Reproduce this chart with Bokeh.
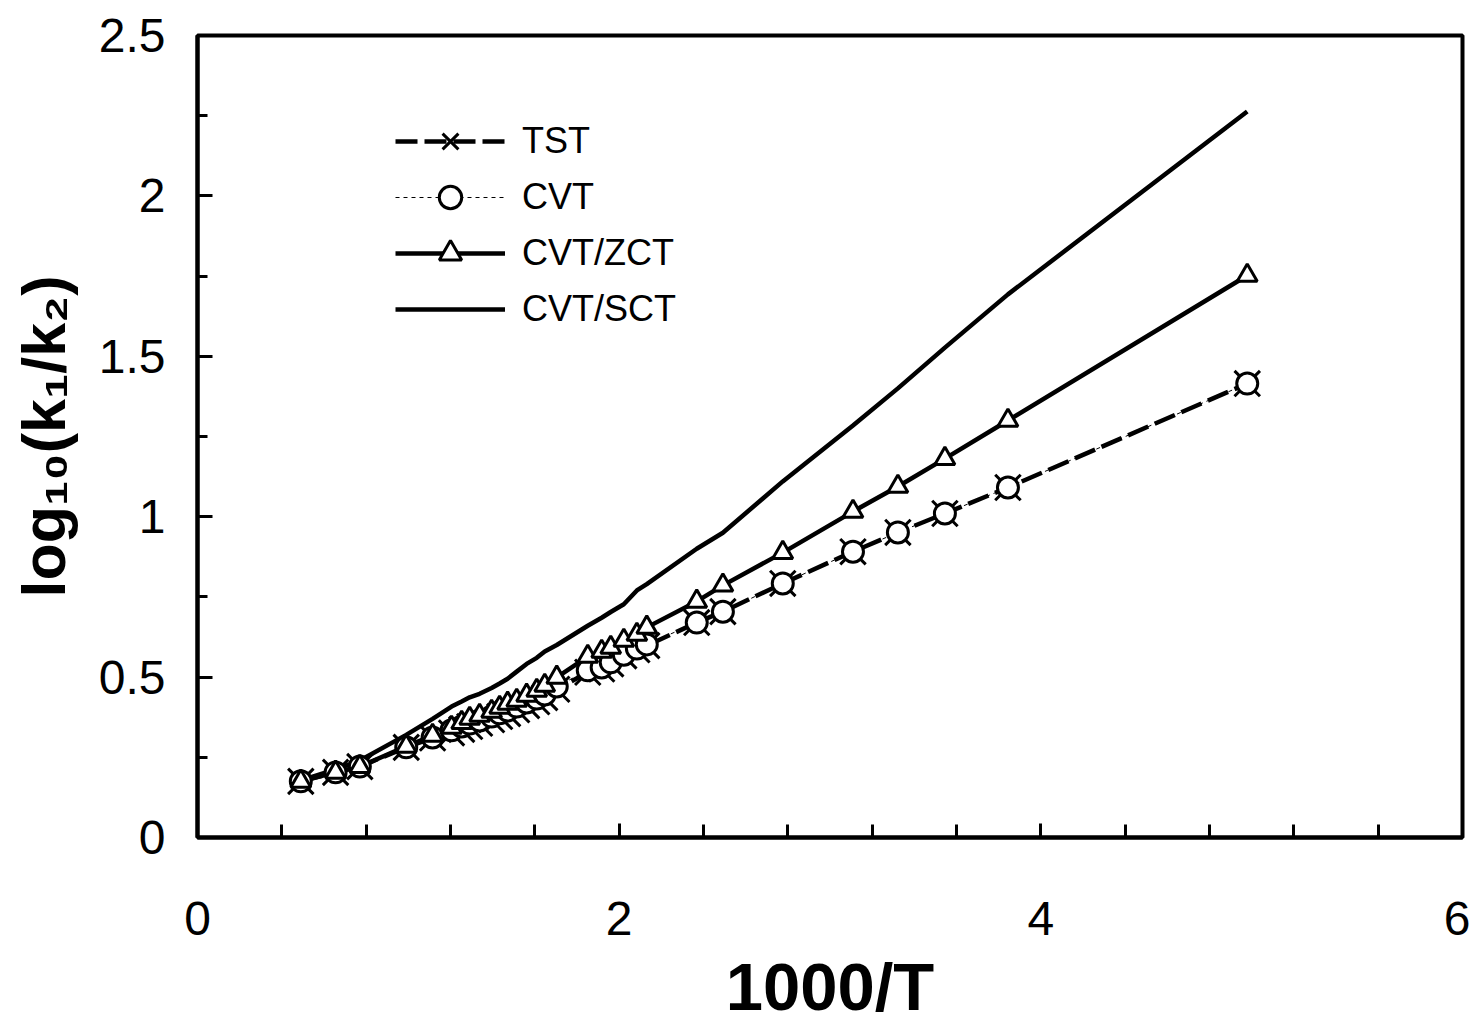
from bokeh.plotting import figure
from bokeh.models import Range1d, FixedTicker, Legend, LegendItem
from bokeh.embed import file_html
from bokeh.resources import INLINE

# ---- data ----
x_inv_T = [0.49, 0.655, 0.77, 0.99, 1.115, 1.205, 1.253, 1.291, 1.338, 1.395, 1.433,
           1.471, 1.514, 1.561, 1.609, 1.647, 1.704, 1.851, 1.917, 1.96, 2.022, 2.084,
           2.131, 2.368, 2.492, 2.776, 3.109, 3.322, 3.545, 3.844, 4.979]
tst = [0.175, 0.203, 0.221, 0.281, 0.31, 0.326, 0.337, 0.346, 0.356, 0.367, 0.377,
       0.386, 0.398, 0.411, 0.423, 0.436, 0.462, 0.515, 0.525, 0.541, 0.566, 0.585,
       0.598, 0.670, 0.704, 0.792, 0.891, 0.951, 1.010, 1.091, 1.415]
cvt = [0.175, 0.203, 0.221, 0.281, 0.312, 0.334, 0.346, 0.355, 0.365, 0.377, 0.387,
       0.396, 0.408, 0.421, 0.433, 0.446, 0.471, 0.521, 0.530, 0.546, 0.570, 0.589,
       0.602, 0.670, 0.704, 0.792, 0.891, 0.951, 1.010, 1.091, 1.415]
cvt_zct = [0.175, 0.203, 0.221, 0.284, 0.318, 0.343, 0.358, 0.371, 0.380, 0.393, 0.405,
           0.418, 0.427, 0.443, 0.458, 0.474, 0.499, 0.564, 0.580, 0.592, 0.614, 0.633,
           0.655, 0.736, 0.786, 0.888, 1.016, 1.094, 1.181, 1.300, 1.752]
cvt_sct = [0.178, 0.212, 0.240, 0.320, 0.370, 0.408, 0.424, 0.437, 0.448, 0.466, 0.480,
           0.495, 0.517, 0.541, 0.560, 0.580, 0.600, 0.660, 0.685, 0.703, 0.727, 0.770,
           0.790, 0.900, 0.950, 1.110, 1.284, 1.400, 1.527, 1.693, 2.263]
series_names = ["TST", "CVT", "CVT/ZCT", "CVT/SCT"]
x_major = [0, 2, 4, 6]
x_minor = [0.4 * i for i in range(16)]
y_major = [0, 0.5, 1, 1.5, 2, 2.5]
y_minor = [0.25 * i for i in range(11)]

FONT = "Liberation Sans"

p = figure(width=1470, height=1028, output_backend="svg", toolbar_location=None,
           x_range=Range1d(0, 6), y_range=Range1d(0, 2.5),
           min_border_left=197, min_border_right=8, min_border_top=35,
           min_border_bottom=191)
p.background_fill_color = "white"
p.border_fill_color = "white"
p.grid.visible = False
p.outline_line_color = "black"
p.outline_line_width = 4

# lines
r_sct = p.line(x_inv_T, cvt_sct, line_color="black", line_width=4.5)
r_zct_line = p.line(x_inv_T, cvt_zct, line_color="black", line_width=4.5)
r_tst_line = p.line(x_inv_T, tst, line_color="black", line_width=4.5, line_dash="22 7")
r_cvt_line = p.line(x_inv_T, cvt, line_color="black", line_width=1, line_dash="4 4")
# markers
r_tst_m = p.scatter(x_inv_T, tst, marker="x", size=36, line_color="black", line_width=3)
r_cvt_m = p.scatter(x_inv_T, cvt, marker="circle", size=21, line_color="black",
                    fill_color="white", line_width=3)
r_zct_m = p.scatter(x_inv_T, cvt_zct, marker="triangle", size=20, line_color="black",
                    fill_color="white", line_width=3)

# axes
for ax in (p.xaxis[0], p.yaxis[0]):
    ax.axis_line_width = 4
    ax.axis_line_color = "black"
    ax.major_tick_out = 0
    ax.minor_tick_out = 0
    ax.major_tick_line_width = 3
    ax.minor_tick_line_width = 3
    ax.major_label_text_font = FONT
    ax.major_label_text_font_size = "48px"
    ax.major_label_text_color = "black"
    ax.axis_label_text_font = FONT
    ax.axis_label_text_font_style = "bold"
    ax.axis_label_text_color = "black"

p.xaxis[0].ticker = FixedTicker(ticks=x_major, minor_ticks=x_minor)
p.xaxis[0].major_tick_in = 14
p.xaxis[0].minor_tick_in = 13
p.xaxis[0].major_label_standoff = 64
p.xaxis[0].axis_label = "1000/T"
p.xaxis[0].axis_label_text_font_size = "67px"
p.xaxis[0].axis_label_standoff = 11
p.xaxis[0].major_label_overrides = {0: "0", 2: "2", 4: "4", 6: "6"}

p.yaxis[0].ticker = FixedTicker(ticks=y_major, minor_ticks=y_minor)
p.yaxis[0].major_tick_in = 15
p.yaxis[0].minor_tick_in = 10
p.yaxis[0].major_label_standoff = 32
p.yaxis[0].axis_label = "log\u2081\u2080(k\u2081/k\u2082)"
p.yaxis[0].axis_label_text_font_size = "61px"
p.yaxis[0].axis_label_standoff = 18
p.yaxis[0].major_label_overrides = {0: "0", 0.5: "0.5", 1: "1", 1.5: "1.5", 2: "2", 2.5: "2.5"}

legend = Legend(items=[
    LegendItem(label=series_names[0], renderers=[r_tst_line, r_tst_m]),
    LegendItem(label=series_names[1], renderers=[r_cvt_line, r_cvt_m]),
    LegendItem(label=series_names[2], renderers=[r_zct_line, r_zct_m]),
    LegendItem(label=series_names[3], renderers=[r_sct]),
], location=(198, 500))
legend.glyph_width = 110
legend.glyph_height = 56
legend.label_height = 56
legend.spacing = 0
legend.padding = 0
legend.margin = 0
legend.label_standoff = 17
legend.label_text_font = FONT
legend.label_text_font_size = "36px"
legend.label_text_color = "black"
legend.border_line_color = None
legend.background_fill_alpha = 0
p.add_layout(legend, "center")

open("out.html", "w").write(file_html(p, INLINE))
